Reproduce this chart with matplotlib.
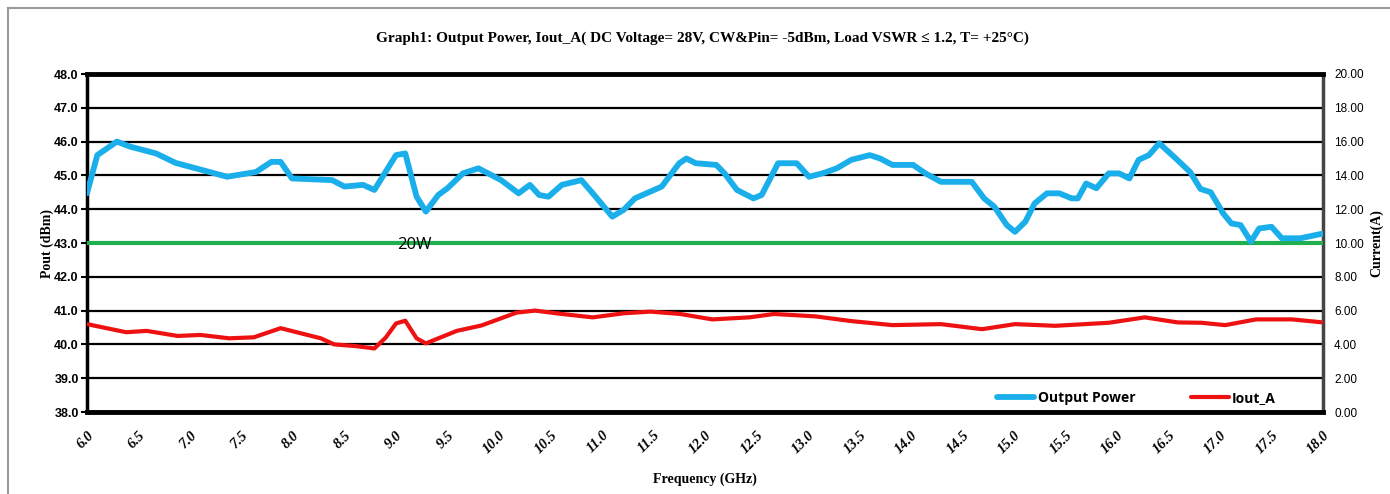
import matplotlib
matplotlib.use("Agg")
import matplotlib.pyplot as plt
from matplotlib.lines import Line2D

# ---- data ----
pout_freq = [6.0, 6.10, 6.29, 6.42, 6.67, 6.86, 7.19, 7.36, 7.64, 7.79, 7.88, 7.99,
             8.38, 8.50, 8.68, 8.79, 9.00, 9.09, 9.20, 9.29, 9.41, 9.50, 9.65, 9.80,
             10.02, 10.19, 10.30, 10.39, 10.48, 10.61, 10.80, 10.91, 11.10, 11.21,
             11.32, 11.58, 11.75, 11.82, 11.91, 12.11, 12.19, 12.31, 12.47, 12.55,
             12.71, 12.89, 13.01, 13.14, 13.28, 13.42, 13.60, 13.70, 13.82, 14.02,
             14.14, 14.29, 14.59, 14.71, 14.81, 14.93, 15.01, 15.11, 15.20, 15.32,
             15.44, 15.56, 15.62, 15.70, 15.80, 15.92, 16.02, 16.12, 16.21, 16.31,
             16.41, 16.55, 16.71, 16.81, 16.91, 17.03, 17.11, 17.20, 17.30, 17.38,
             17.50, 17.60, 17.78, 18.0]
pout_dbm = [44.47, 45.60, 46.00, 45.85, 45.65, 45.37, 45.10, 44.96, 45.10, 45.40, 45.40, 44.91,
            44.86, 44.67, 44.72, 44.57, 45.60, 45.65, 44.37, 43.93, 44.42, 44.62, 45.06, 45.21,
            44.86, 44.47, 44.72, 44.42, 44.37, 44.72, 44.86, 44.47, 43.78, 43.98,
            44.32, 44.67, 45.36, 45.50, 45.36, 45.31, 45.06, 44.57, 44.32, 44.42,
            45.36, 45.36, 44.96, 45.06, 45.21, 45.46, 45.60, 45.50, 45.31, 45.31,
            45.06, 44.81, 44.81, 44.32, 44.07, 43.53, 43.33, 43.63, 44.17, 44.47,
            44.47, 44.32, 44.32, 44.76, 44.62, 45.06, 45.06, 44.91, 45.46, 45.60,
            45.95, 45.56, 45.10, 44.60, 44.50, 43.88, 43.58, 43.53, 43.04, 43.43,
            43.48, 43.14, 43.14, 43.28]

iout_freq = [6.0, 6.38, 6.58, 6.88, 7.10, 7.38, 7.62, 7.88, 8.27, 8.40, 8.61, 8.79,
             8.90, 9.00, 9.09, 9.20, 9.29, 9.59, 9.83, 10.17, 10.35, 10.61, 10.91,
             11.21, 11.47, 11.76, 12.07, 12.43, 12.67, 13.07, 13.42, 13.82, 14.29,
             14.69, 15.01, 15.40, 15.92, 16.27, 16.59, 16.82, 17.05, 17.35, 17.70, 18.0]
iout_a = [5.20, 4.72, 4.80, 4.50, 4.56, 4.36, 4.42, 4.96, 4.36, 4.00, 3.90, 3.76,
          4.40, 5.24, 5.40, 4.36, 4.06, 4.80, 5.12, 5.88, 6.00, 5.80, 5.60,
          5.84, 5.94, 5.80, 5.48, 5.60, 5.80, 5.66, 5.38, 5.14, 5.20,
          4.90, 5.20, 5.10, 5.28, 5.60, 5.30, 5.28, 5.14, 5.48, 5.48, 5.30]

limit_freq = [6.0, 18.0]
limit_dbm = [43.0, 43.0]
limit_label = "20W"

x_ticks = [6.0 + 0.5 * i for i in range(25)]
x_ticklabels = [f"{v:.1f}" for v in x_ticks]
left_ticks = [38.0 + i for i in range(11)]
right_ticks = [2.0 * i for i in range(11)]

title = "Graph1: Output Power, Iout_A( DC Voltage= 28V, CW&Pin= -5dBm, Load VSWR \u2264 1.2, T= +25\u00b0C)"

BLUE = "#1AAFEA"
RED = "#EE1111"
GREEN = "#1FAF4F"

W, H = 1390, 494
fig = plt.figure(figsize=(W / 100, H / 100), dpi=100)
fig.patch.set_facecolor("white")

# outer frame (top + left edges visible)
fig.add_artist(Line2D([8 / W, 8 / W], [0, 1 - 8 / H], transform=fig.transFigure,
                      color="#9a9a9a", lw=1.5))
fig.add_artist(Line2D([8 / W, 1], [1 - 8 / H, 1 - 8 / H], transform=fig.transFigure,
                      color="#9a9a9a", lw=1.5))

L, R, T, B = 87, 1323, 74, 412
ax = fig.add_axes([L / W, 1 - B / H, (R - L) / W, (B - T) / H])
ax.set_xlim(6.0, 18.0)
ax.set_ylim(38.0, 48.0)

ax.set_yticks(left_ticks)
ax.yaxis.grid(True, color="black", lw=1.6)
ax.set_axisbelow(True)
ax.set_yticklabels([f"{v:.1f}" for v in left_ticks], family="Liberation Sans",
                   fontweight="bold", fontsize=9)
ax.tick_params(axis="y", length=4, width=1.5, pad=2)

ax.set_xticks(x_ticks)
ax.set_xticklabels(x_ticklabels, rotation=45, ha="right", va="top", rotation_mode="anchor",
                   family="Liberation Serif", fontweight="bold", fontstyle="italic",
                   fontsize=10.5)
ax.tick_params(axis="x", length=0, pad=12)

for s, lw in (("left", 2.5), ("bottom", 3.5), ("top", 3.5), ("right", 2.5)):
    ax.spines[s].set_linewidth(lw)
    ax.spines[s].set_color("black")
ax.spines["right"].set_color("#444444")

ax.plot(limit_freq, limit_dbm, color=GREEN, lw=3.0, zorder=3, solid_capstyle="butt")
l1, = ax.plot(pout_freq, pout_dbm, color=BLUE, lw=4.2, zorder=4,
              solid_joinstyle="round", solid_capstyle="round", label="Output Power")
ax.text(9.18, 42.94, limit_label, ha="center", va="center", fontsize=12,
        family="Open Sans", color="black", zorder=5)

ax.set_ylabel("Pout (dBm)", family="Liberation Serif", fontweight="bold", fontsize=10,
              labelpad=0)
ax.set_xlabel("Frequency (GHz)", family="Liberation Serif", fontweight="bold", fontsize=10,
              labelpad=12)
fig.text(0.505, 1 - 38 / H, title, ha="center", va="center", family="Liberation Serif",
         fontweight="bold", fontsize=11)

ax2 = ax.twinx()
ax2.set_ylim(0, 20)
ax2.set_yticks(right_ticks)
ax2.set_yticklabels([f"{v:.2f}" for v in right_ticks], family="Liberation Sans",
                    fontsize=8.5)
ax2.tick_params(axis="y", length=0, pad=8)
for s in ax2.spines.values():
    s.set_visible(False)
l2, = ax2.plot(iout_freq, iout_a, color=RED, lw=3.0, zorder=4,
               solid_joinstyle="round", solid_capstyle="round", label="Iout_A")
ax2.set_ylabel("Current(A)", family="Liberation Serif", fontweight="bold", fontsize=10,
               labelpad=4)

leg = ax2.legend([l1, l2], ["Output Power", "Iout_A"], ncol=2, frameon=False,
                 loc="lower right", bbox_to_anchor=(0.972, -0.016),
                 prop={"family": "Open Sans", "weight": "bold", "size": 10},
                 handlelength=2.7, columnspacing=4.0, handletextpad=0.25)

fig.savefig("out.png", dpi=100, facecolor="white")
